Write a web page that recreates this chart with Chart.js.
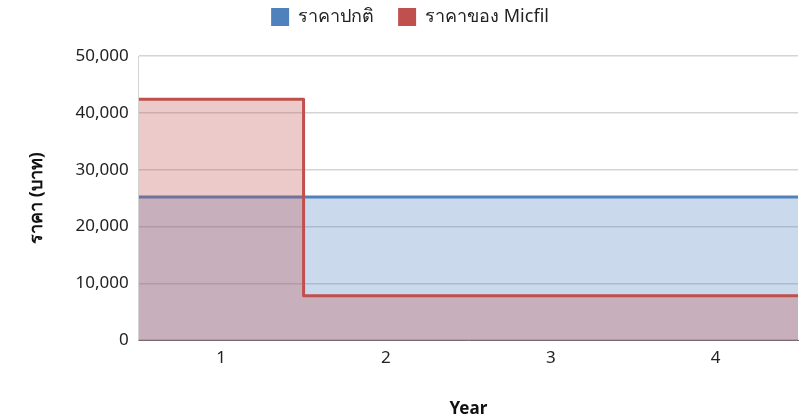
<!DOCTYPE html>
<html><head><meta charset="utf-8">
<script src="https://cdn.jsdelivr.net/npm/chart.js@4/dist/chart.umd.min.js"></script>
<style>html,body{margin:0;padding:0;background:#fff}#wrap{width:804px;height:415px}</style>
</head><body><div id="wrap"><canvas id="c" width="804" height="415"></canvas></div>
<script>
const years = ['1', '2', '3', '4'];
const normalPrice = [25200, 25200, 25200, 25200];
const micfilPrice = [42400, 7800, 7800, 7800];
const seriesNames = ['ราคาปกติ', 'ราคาของ Micfil'];
const yTicks = [0, 10000, 20000, 30000, 40000, 50000];

function toPoints(vals) {
  const pts = [{x: 0.5, y: vals[0]}];
  vals.forEach((v, i) => pts.push({x: i + 1, y: v}));
  pts.push({x: vals.length + 0.5, y: vals[vals.length - 1]});
  return pts;
}
const FONT = "'Noto Sans', 'Liberation Sans', sans-serif";
const blue = '#4F81BD', red = '#C0504D';

const legendSpace = {
  id: 'legendSpace',
  beforeInit(chart) {
    const orig = chart.legend.fit;
    chart.legend.fit = function () { orig.call(this); this.height += 20; };
  }
};

new Chart(document.getElementById('c'), {
  type: 'line',
  plugins: [legendSpace],
  data: {
    datasets: [
      {label: seriesNames[0], data: toPoints(normalPrice), borderColor: blue, backgroundColor: 'rgba(79,129,189,0.3)',
       fill: 'origin', stepped: 'middle', borderWidth: 3, pointRadius: 0, order: 1},
      {label: seriesNames[1], data: toPoints(micfilPrice), borderColor: red, backgroundColor: 'rgba(192,80,77,0.3)',
       fill: 'origin', stepped: 'middle', borderWidth: 3, pointRadius: 0, order: 0, borderJoinStyle: 'round'}
    ]
  },
  options: {
    responsive: false, animation: false,
    layout: {padding: {left: 22, right: 6, top: -16, bottom: 0}},
    plugins: {
      legend: {
        position: 'top',
        labels: {
          font: {family: FONT, size: 18}, color: '#222', boxWidth: 18, boxHeight: 18, padding: 24,
          sort: (a, b) => a.datasetIndex - b.datasetIndex,
          generateLabels: (chart) => Chart.defaults.plugins.legend.labels.generateLabels(chart).map(l => {
            l.fillStyle = chart.data.datasets[l.datasetIndex].borderColor; l.lineWidth = 0; l.strokeStyle = 'transparent'; return l;
          })
        }
      },
      tooltip: {enabled: false}
    },
    scales: {
      x: {
        type: 'linear', min: 0.5, max: years.length + 0.5,
        afterBuildTicks: (s) => { s.ticks = years.map((y, i) => ({value: i + 1})); },
        ticks: {callback: (v) => years[v - 1], font: {family: FONT, size: 17}, color: '#222', padding: 8},
        grid: {display: false, drawTicks: false},
        border: {color: '#7a6a72', width: 1},
        title: {display: true, text: 'Year', font: {family: FONT, size: 17, weight: 'bold'}, color: '#111', padding: {top: 22, bottom: -4}}
      },
      y: {
        min: 0, max: 50000,
        afterBuildTicks: (s) => { s.ticks = yTicks.map(v => ({value: v})); },
        ticks: {callback: (v) => v.toLocaleString('en-US'), font: {family: FONT, size: 17}, color: '#222', padding: 10},
        grid: {color: '#d4d4d4', lineWidth: 1.5, drawTicks: false},
        border: {display: true, color: '#d4d4d4'},
        title: {display: true, text: 'ราคา (บาท)', font: {family: FONT, size: 18, weight: 'bold'}, color: '#111', padding: {bottom: 18}}
      }
    }
  }
});
</script></body></html>
